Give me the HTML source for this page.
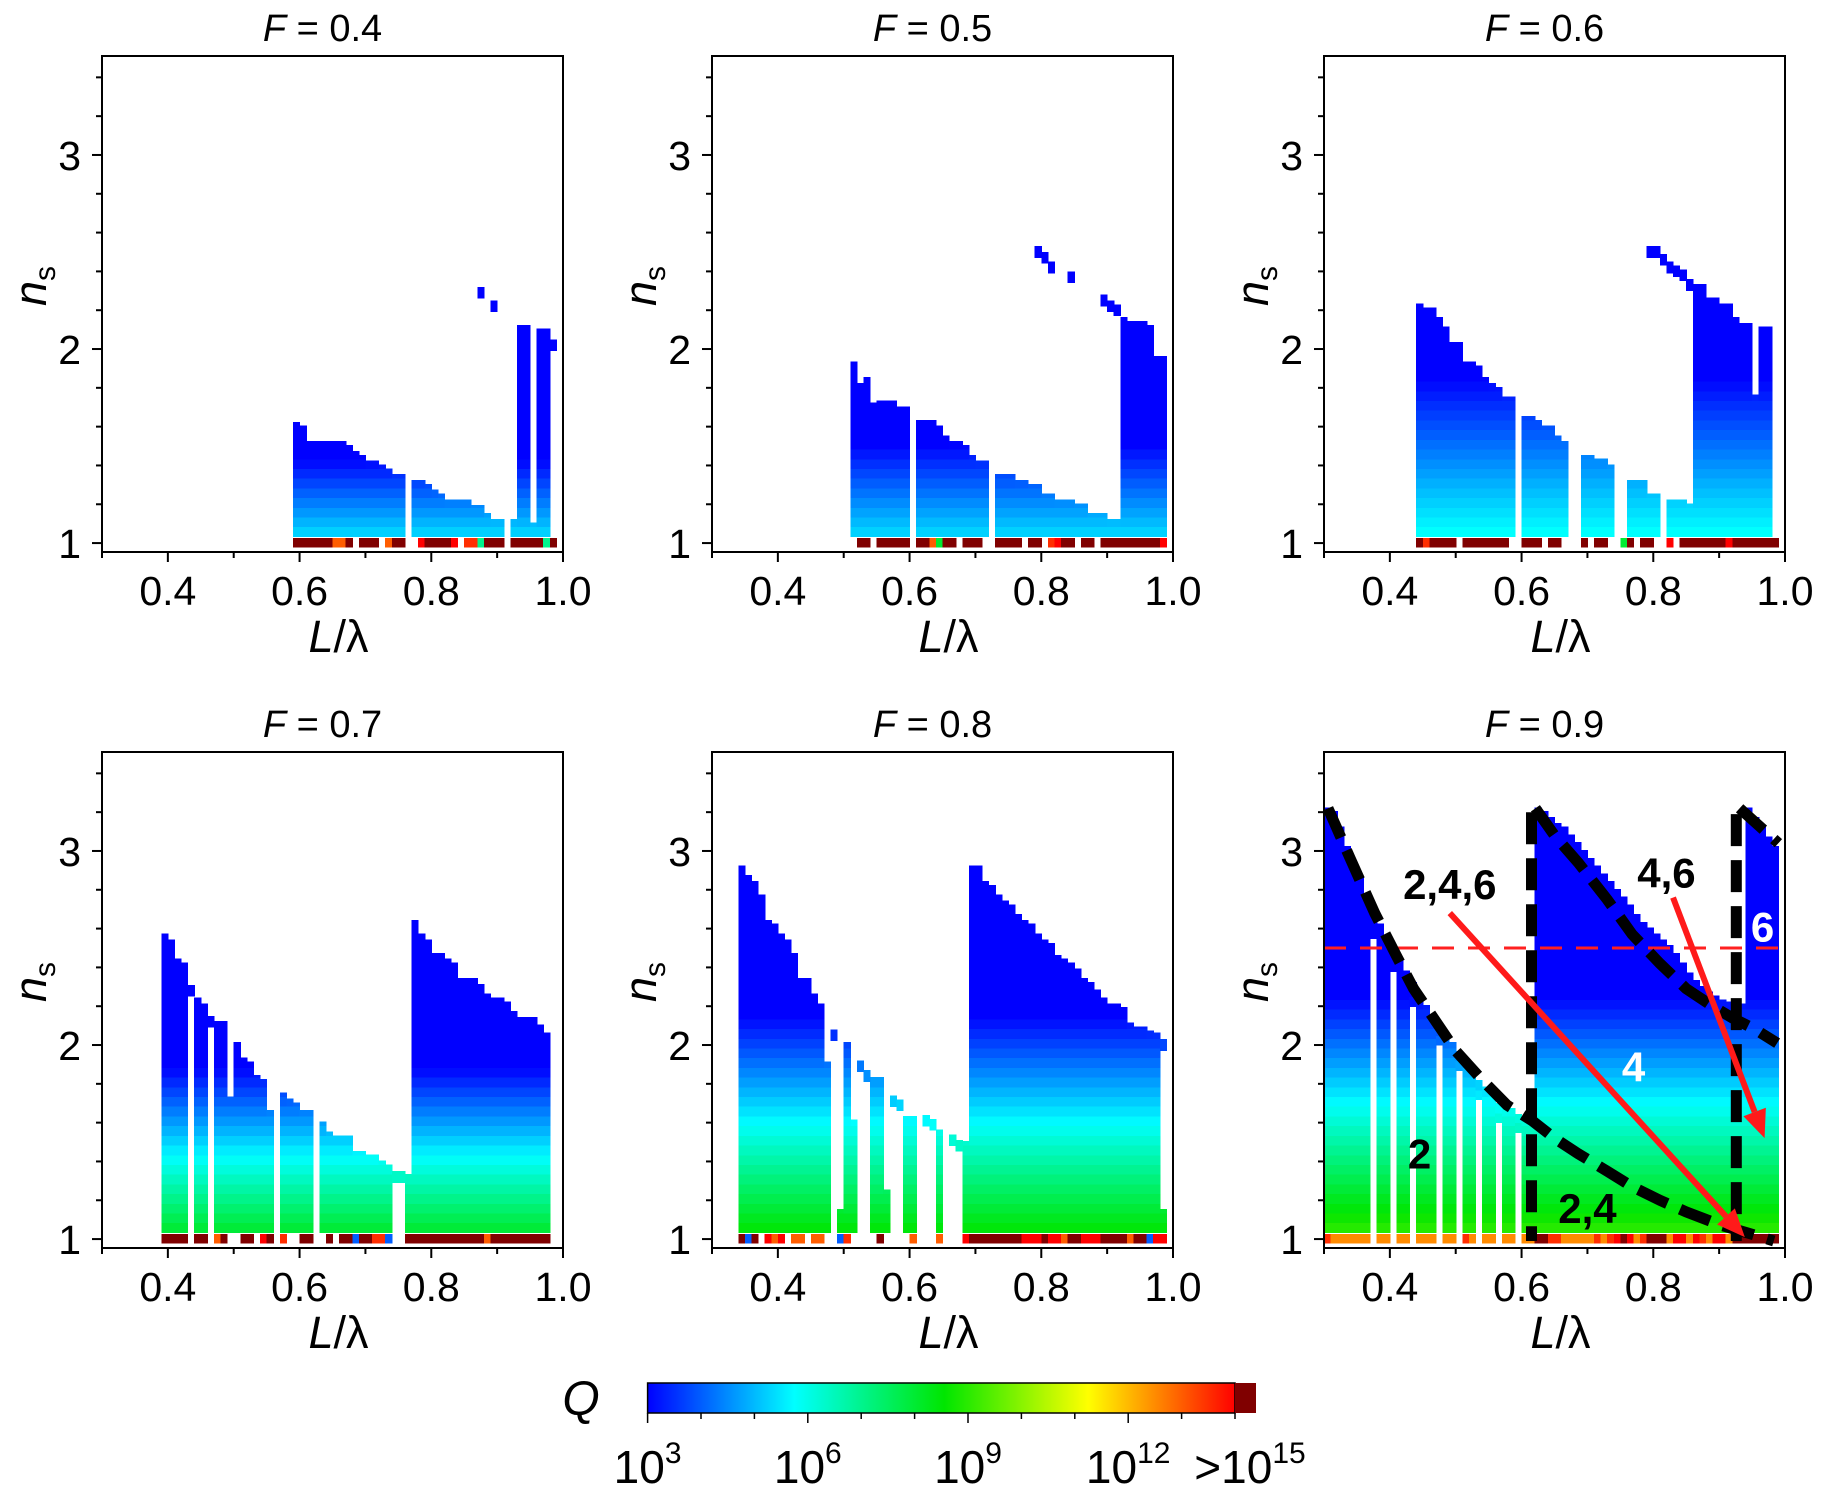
<!DOCTYPE html>
<html><head><meta charset="utf-8"><title>Q maps</title>
<style>
html,body{margin:0;padding:0;background:#fff;}
svg{display:block;font-family:"Liberation Sans",Arial,sans-serif;}
</style></head>
<body>
<svg id="fig" width="1821" height="1500" viewBox="0 0 1821 1500" xmlns="http://www.w3.org/2000/svg">
<defs>
<linearGradient id="cbgrad" x1="0" x2="1" y1="0" y2="0">
<stop offset="0" stop-color="#0000ff"/>
<stop offset="0.125" stop-color="#0080ff"/>
<stop offset="0.25" stop-color="#00ffff"/>
<stop offset="0.505" stop-color="#00e600"/>
<stop offset="0.75" stop-color="#ffff00"/>
<stop offset="1" stop-color="#ff0000"/>
</linearGradient>
</defs>
</svg>
<script>
// ---------- data (columns x = 0.30 .. 0.99 step 0.01) ----------
const titles = ["0.4","0.5","0.6","0.7","0.8","0.9"];
const lowQ = [5.3, 5.3, 5.8, 8, 8.5, 9];
const rateQ = [6, 5, 3.5, 6, 5, 5];

const tops04 = [0,0,0,0,0,0,0,0,0,0, 0,0,0,0,0,0,0,0,0,0, 0,0,0,0,0,0,0,0,0,
 1.6,1.58,1.5,1.5,1.5,1.5,1.5,1.5,1.48,1.45,1.43,1.4,1.4,1.38,1.36,1.33,1.33,0,1.3,1.3,1.28,1.25,1.23,1.2,1.2,1.2,1.2,1.17,1.17,1.13,1.1,1.1,0,1.1,2.1,2.1,1.08,2.08,2.08,0,0];
const base04 = [0,0,0,0,0,0,0,0,0,0, 0,0,0,0,0,0,0,0,0,0, 0,0,0,0,0,0,0,0,0,
 15,15,15,15,15,15,13,13,15,0,15,15,15,0,13,15,15,0,0,14,15,15,15,15,14,0,13.5,13.5,7,15,15,15,0,15,15,15,15,15,7,15,0];
const islX04 = [0.87,0.89,0.98];
const islN04 = [2.29,2.22,2.02];

const tops05 = [0,0,0,0,0,0,0,0,0,0, 0,0,0,0,0,0,0,0,0,0, 0,
 1.91,1.8,1.83,1.7,1.71,1.71,1.71,1.68,1.68,0,1.61,1.61,1.61,1.58,1.53,1.5,1.5,1.48,1.43,1.4,1.4,0,1.33,1.33,1.33,1.3,1.3,1.28,1.28,1.23,1.23,1.2,1.2,1.2,1.18,1.18,1.13,1.13,1.13,1.1,1.1,2.14,2.12,2.12,2.12,2.1,1.94,1.94,0];
const base05 = [0,0,0,0,0,0,0,0,0,0, 0,0,0,0,0,0,0,0,0,0, 0,
 0,15,15,0,15,15,15,15,15,0,15,15,13,8,15,15,0,15,15,15,0,0,15,15,15,15,0,15,15,0,13.5,14,15,15,0,15,15,0,15,15,15,15,15,15,15,15,15,14,0];
const islX05 = [0.79,0.80,0.81,0.84,0.89,0.90,0.91];
const islN05 = [2.5,2.47,2.42,2.37,2.25,2.22,2.2];

const tops06 = [0,0,0,0,0,0,0,0,0,0, 0,0,0,0,
 2.21,2.19,2.19,2.14,2.09,2.01,2.01,1.91,1.91,1.89,1.83,1.8,1.78,1.73,1.73,0,1.63,1.63,1.61,1.58,1.58,1.53,1.5,0,0,1.43,1.43,1.41,1.41,1.38,0,0,1.3,1.3,1.3,1.23,1.23,0,1.2,1.2,1.2,1.18,2.31,2.31,2.24,2.24,2.21,2.21,2.14,2.11,2.11,1.74,2.09,2.09,0,0];
const base06 = [0,0,0,0,0,0,0,0,0,0, 0,0,0,0,
 15,13.5,15,15,15,15,0,15,15,15,15,15,15,15,0,0,15,15,15,0,15,15,0,0,0,15,0,15,15,0,0,8,15,0,15,15,0,0,14,0,15,15,15,15,15,15,15,14,15,15,14.5,15,15,15,15,0];
const islX06 = [0.79,0.80,0.81,0.82,0.83,0.84,0.85];
const islN06 = [2.5,2.5,2.46,2.42,2.4,2.38,2.33];

const tops07 = [0,0,0,0,0,0,0,0,0,
 2.55,2.52,2.42,2.4,0,2.22,2.19,0,2.1,2.1,1.71,1.99,1.91,1.89,1.82,1.8,1.64,0,1.73,1.7,1.68,1.64,1.64,0,1.58,1.53,1.51,1.51,1.51,1.43,1.43,1.41,1.41,1.38,1.36,0,0,1.31,2.62,2.55,2.52,2.45,2.45,2.42,2.4,2.32,2.32,2.32,2.29,2.24,2.22,2.22,2.2,2.15,2.12,2.12,2.12,2.08,2.04,0,0];
const base07 = [0,0,0,0,0,0,0,0,0,
 15,15,15,15,0,15,15,0,13,15,0,0,15,15,0,14,15,0,13.5,0,0,15,15,0,0,15,0,15,15,4,15,15,13.5,13.5,4,0,0,15,15,15,15,15,14.5,15,15,15,15,15,15,13,15,15,15,14.5,15,15,15,15,15,0,0];
const islX07 = [0.43,0.46,0.74,0.75];
const islN07 = [2.28,2.12,1.32,1.32];

const tops08 = [0,0,0,0,
 2.9,2.85,2.82,2.75,2.62,2.6,2.55,2.52,2.45,2.32,2.32,2.24,2.19,1.89,0,1.13,1.99,1.59,0,0,1.81,1.81,1.23,0,0,1.61,1.61,0,0,0,1.54,0,0,0,1.48,2.9,2.9,2.82,2.8,2.75,2.72,2.7,2.65,2.62,2.6,2.55,2.52,2.5,2.44,2.42,2.4,2.37,2.32,2.3,2.26,2.22,2.19,2.19,2.17,2.09,2.07,2.07,2.05,2.04,1.13,0];
const base08 = [0,0,0,0,
 15,4,15,0,14,13,14,0,13,13,0,13,13,0,0,4,13.5,0,0,0,0,15,0,0,0,0,13,0,0,0,13,0,0,0,14,15,15,15,15,15,15,15,15,14,14,14,15,14,14,13,15,15,14,14,14,15,15,15,15,13,15,15,4,14,14,0];
const islX08 = [0.48,0.52,0.53,0.57,0.58,0.62,0.63,0.66,0.67,0.98];
const islN08 = [2.05,1.89,1.84,1.71,1.69,1.61,1.59,1.51,1.48,2.0];

const tops09 = [3.2,3.18,3.1,3.0,2.92,2.84,2.75,2.68,2.6,2.54,2.49,2.42,2.36,2.3,2.24,2.18,2.12,2.07,2.03,1.99,1.95,1.9,1.85,1.8,1.76,1.72,1.68,1.65,1.65,1.62,1.6,1.58,
 3.2,3.18,3.15,3.12,3.1,3.06,3.02,2.98,2.94,2.9,2.86,2.82,2.78,2.74,2.7,2.65,2.61,2.58,2.55,2.52,2.49,2.45,2.4,2.35,2.31,2.28,2.25,2.23,2.21,2.2,2.2,2.19,
 3.2,3.15,3.1,3.05,3.0,0];
const base09 = [13.5,12.5,12.5,12.5,12.5,12.5,12.5,0,12.5,12.5,0,12.5,12.5,0,12.5,12.5,12.5,0,12.5,12.5,0,13.5,12.5,0,12.5,12.5,0,12.5,12.5,0,12.5,12.5,
 15,15,13.5,13.5,12.5,12.5,12.5,12.5,12.5,13.5,12.5,13.5,14,15,14,12.5,13.5,15,15,15,12.5,14,14,12.5,14,13.5,12.5,14,14,12.5,15,15,
 15,15,15,15,15,0];
const holeX09 = [0.37,0.40,0.43,0.47,0.50,0.53,0.56,0.59];
const holeN09 = [2.55,2.38,2.2,2.0,1.87,1.72,1.6,1.55];

// axis ticks
const xMajor = [0.4,0.6,0.8,1.0];
const xMajorLabels = ["0.4","0.6","0.8","1.0"];
const xMinor = [0.3,0.5,0.7,0.9];
const yMajor = [1,2,3];
const yMajorLabels = ["1","2","3"];
const yMinor = [1.2,1.4,1.6,1.8,2.2,2.4,2.6,2.8,3.2,3.4];
// colorbar
const cbDecades = [3,4,5,6,7,8,9,10,11,12,13,14];
const cbLabelExp = ["3","6","9","12"];
const cbLabelPos = [3,6,9,12];

// panel 6 annotations (data coordinates)
const curveA = [[0.306,3.22],[0.34,2.96],[0.377,2.68],[0.41,2.46],[0.436,2.29],[0.47,2.12],[0.50,1.97],[0.54,1.82],[0.578,1.69],[0.616,1.61],[0.65,1.52],[0.686,1.44],[0.73,1.35],[0.768,1.27],[0.81,1.2],[0.85,1.14],[0.904,1.07],[0.945,1.03],[0.983,0.99]];
const vertA = [[0.615,3.2],[0.615,0.99]];
const curveB = [[0.621,3.22],[0.65,3.08],[0.686,2.94],[0.73,2.75],[0.768,2.57],[0.81,2.42],[0.85,2.29],[0.89,2.2],[0.92,2.14],[0.955,2.08],[0.988,2.01]];
const vertB = [[0.926,3.19],[0.926,0.99]];
const lineC = [[0.931,3.22],[0.99,3.04]];
const arrow1 = [[0.491,2.68],[0.939,1.01]];
const arrow2 = [[0.83,2.76],[0.969,1.52]];

// ---------- layout ----------
const svg = document.getElementById('fig');
const NSURI = svg.namespaceURI;
const panelLeft = [102,712,1324,102,712,1324];
const panelTop = [56,56,56,752,752,752];
const PW = 461, PH = 496, X0 = 0.3, X1 = 1.0, N0 = 0.954, N1 = 3.51;

function mk(tag, attrs, name, parent){
  const el = document.createElementNS(NSURI, tag);
  for (const k in attrs) el.setAttribute(k, attrs[k]);
  
  
  (parent || svg).appendChild(el);
  return el;
}
function jet(q){
  if (q >= 14.5) return 'rgb(128,0,0)';
  let f = (q-3)/11; f = Math.max(0, Math.min(1, f));
  const st = [[0,0,0,255],[0.125,0,128,255],[0.25,0,255,255],[0.505,0,230,0],[0.75,255,255,0],[1,255,0,0]];
  for (let i=0;i<st.length-1;i++){
    const a=st[i], b=st[i+1];
    if (f<=b[0]){
      const t=(f-a[0])/(b[0]-a[0]);
      return 'rgb('+Math.round(a[1]+(b[1]-a[1])*t)+','+Math.round(a[2]+(b[2]-a[2])*t)+','+Math.round(a[3]+(b[3]-a[3])*t)+')';
    }
  }
  return 'rgb(255,0,0)';
}

const panelTops = [tops04,tops05,tops06,tops07,tops08,tops09];
const panelBase = [base04,base05,base06,base07,base08,base09];
const panelIslX = [islX04,islX05,islX06,islX07,islX08,[]];
const panelIslN = [islN04,islN05,islN06,islN07,islN08,[]];
const panelHoleX = [[],[],[],[],[],holeX09];
const panelHoleN = [[],[],[],[],[],holeN09];

for (let p=0;p<6;p++){
  const L = panelLeft[p], T = panelTop[p];
  const sx = x => L + (x-X0)/(X1-X0)*PW;
  const sy = n => T + (N1-n)/(N1-N0)*PH;
  const qf = n => Math.max(3, lowQ[p] - rateQ[p]*(n-1.05));
  const g = mk('g', {}, 'panel-F-'+titles[p]);
  const hm = mk('g', {'shape-rendering':'crispEdges'}, 'heatmap', g);
  const tops = panelTops[p], base = panelBase[p];
  for (let i=0;i<tops.length;i++){
    const x = X0 + i*0.01;
    const xa = sx(x), w = sx(x+0.01)-xa+0.6;
    if (base[i] > 0){
      const r = mk('rect', {x:xa, y:sy(1.025), width:w, height:sy(0.978)-sy(1.025), fill:jet(base[i])}, 'q-base-cell', hm);
    }
    const top = tops[i];
    if (top > 0){
      let hole = 0;
      const hx = panelHoleX[p];
      for (let k=0;k<hx.length;k++) if (Math.abs(hx[k]-x)<0.001) hole = panelHoleN[p][k];
      const nEnd = top + 0.025;
      for (let n0 = (hole>0?hole:1.035); n0 < nEnd-0.005; n0 += 0.05){
        const n1 = Math.min(n0+0.05, nEnd);
        const r = mk('rect', {x:xa, y:sy(n1), width:w, height:sy(n0)-sy(n1)+0.6, fill:jet(qf((n0+n1)/2))}, 'q-cell', hm);
      }
    }
  }
  const ix = panelIslX[p], inn = panelIslN[p];
  for (let k=0;k<ix.length;k++){
    const xa = sx(ix[k]);
    const r = mk('rect', {x:xa, y:sy(inn[k]+0.03), width:sx(ix[k]+0.01)-xa+0.6, height:sy(inn[k]-0.03)-sy(inn[k]+0.03), fill:jet(qf(inn[k]))}, 'q-island-cell', hm);
  }

  // annotations for F=0.9
  if (p===5){
    const ann = mk('g', {}, 'annotations', g);
    const pts = a => a.map(d => sx(d[0]).toFixed(1)+','+sy(d[1]).toFixed(1)).join(' ');
    mk('line', {x1:sx(0.3), x2:sx(1.0), y1:sy(2.5), y2:sy(2.5), stroke:'#ff2020', 'stroke-width':3, 'stroke-dasharray':'22 14'}, 'reference-line-ns-2.5', ann);
    [[curveA,'lower-boundary'],[vertA,'left-vertical-boundary'],[curveB,'upper-boundary'],[vertB,'right-vertical-boundary'],[lineC,'top-right-boundary']].forEach(c=>{
      mk('polyline', {points:pts(c[0]), fill:'none', stroke:'#000', 'stroke-width':11, 'stroke-dasharray':'32 14'}, c[1], ann);
    });
    [[arrow1,'arrow-2-4-6'],[arrow2,'arrow-4-6']].forEach(a=>{
      const seg = a[0];
      const x1=sx(seg[0][0]), y1=sy(seg[0][1]), x2=sx(seg[1][0]), y2=sy(seg[1][1]);
      const dx=x2-x1, dy=y2-y1, len=Math.hypot(dx,dy), ux=dx/len, uy=dy/len;
      const hl=28, hw=12;
      const bx=x2-ux*hl, by=y2-uy*hl;
      mk('line', {x1:x1, y1:y1, x2:bx, y2:by, stroke:'#ff1a1a', 'stroke-width':6}, a[1]+'-shaft', ann);
      mk('polygon', {points:x2+','+y2+' '+(bx-uy*hw)+','+(by+ux*hw)+' '+(bx+uy*hw)+','+(by-ux*hw), fill:'#ff1a1a'}, a[1]+'-head', ann);
    });
    const labs = [["2,4,6",0.491,2.83,'#000'],["4,6",0.82,2.89,'#000'],["6",0.966,2.61,'#fff'],["4",0.77,1.89,'#fff'],["2",0.445,1.44,'#000'],["2,4",0.70,1.16,'#000']];
    labs.forEach(l=>{
      const t = mk('text', {x:sx(l[1]), y:sy(l[2])+15, 'text-anchor':'middle', 'font-size':42, 'font-weight':'bold', fill:l[3]}, 'region-label-'+l[0].replace(/,/g,'-'), ann);
      t.textContent = l[0];
    });
  }

  // frame
  mk('rect', {x:L, y:T, width:PW, height:PH, fill:'none', stroke:'#000', 'stroke-width':2}, 'plot-frame', g);
  const B = T+PH;
  xMajor.forEach((v,k)=>{
    mk('line', {x1:sx(v), x2:sx(v), y1:B, y2:B+10, stroke:'#000', 'stroke-width':2}, 'x-major-tick', g);
    const t = mk('text', {x:sx(v), y:B+53, 'text-anchor':'middle', 'font-size':41}, 'x-tick-label', g);
    t.textContent = xMajorLabels[k];
  });
  xMinor.forEach(v=>{ mk('line', {x1:sx(v), x2:sx(v), y1:B, y2:B+6, stroke:'#000', 'stroke-width':2}, 'x-minor-tick', g); });
  yMajor.forEach((v,k)=>{
    mk('line', {x1:L-10, x2:L, y1:sy(v), y2:sy(v), stroke:'#000', 'stroke-width':2}, 'y-major-tick', g);
    const t = mk('text', {x:L-21, y:sy(v)+15, 'text-anchor':'end', 'font-size':41}, 'y-tick-label', g);
    t.textContent = yMajorLabels[k];
  });
  yMinor.forEach(v=>{ mk('line', {x1:L-6, x2:L, y1:sy(v), y2:sy(v), stroke:'#000', 'stroke-width':2}, 'y-minor-tick', g); });
  const tt = mk('text', {x:L+PW/2-10, y:T-15, 'text-anchor':'middle', 'font-size':38}, 'panel-title', g);
  tt.innerHTML = '<tspan font-style="italic">F</tspan> = '+titles[p];
  const xl = mk('text', {x:L+PW/2+6, y:B+100, 'text-anchor':'middle', 'font-size':45}, 'x-axis-title', g);
  xl.innerHTML = '<tspan font-style="italic">L</tspan>/λ';
  const yl = mk('text', {x:0, y:0, 'text-anchor':'middle', 'font-size':45, transform:'translate('+(L-56)+','+(T+230)+') rotate(-90)'}, 'y-axis-title', g);
  yl.innerHTML = '<tspan font-style="italic">n</tspan><tspan font-size="30" dy="9">s</tspan>';
}

// ---------- colorbar ----------
const cb = mk('g', {}, 'colorbar');
const cbL = 647.6, cbR = 1235, cbT = 1383, cbB = 1413;
const cx = d => cbL + (d-3)/11*(cbR-cbL);
mk('rect', {x:cbL, y:cbT, width:cbR-cbL, height:cbB-cbT, fill:'url(#cbgrad)', stroke:'#000', 'stroke-width':1.5}, 'colorbar-gradient', cb);
mk('rect', {x:cbR, y:cbT, width:21, height:cbB-cbT, fill:'rgb(128,0,0)'}, 'colorbar-overflow', cb);
cbDecades.forEach(d=>{
  const major = cbLabelPos.indexOf(d) >= 0;
  mk('line', {x1:cx(d), x2:cx(d), y1:cbB, y2:cbB+(major?10:6), stroke:'#000', 'stroke-width':1.5}, 'colorbar-tick', cb);
});
cbLabelPos.forEach((d,k)=>{
  const t = mk('text', {x:cx(d), y:1483, 'text-anchor':'middle', 'font-size':46}, 'colorbar-label', cb);
  t.innerHTML = '10<tspan font-size="30" dy="-20">'+cbLabelExp[k]+'</tspan>';
});
const ov = mk('text', {x:1250, y:1483, 'text-anchor':'middle', 'font-size':46}, 'colorbar-label-overflow', cb);
ov.innerHTML = '&gt;10<tspan font-size="30" dy="-20">15</tspan>';
const ql = mk('text', {x:581, y:1415, 'text-anchor':'middle', 'font-size':48, 'font-style':'italic'}, 'colorbar-title', cb);
ql.textContent = 'Q';
</script>
</body></html>
